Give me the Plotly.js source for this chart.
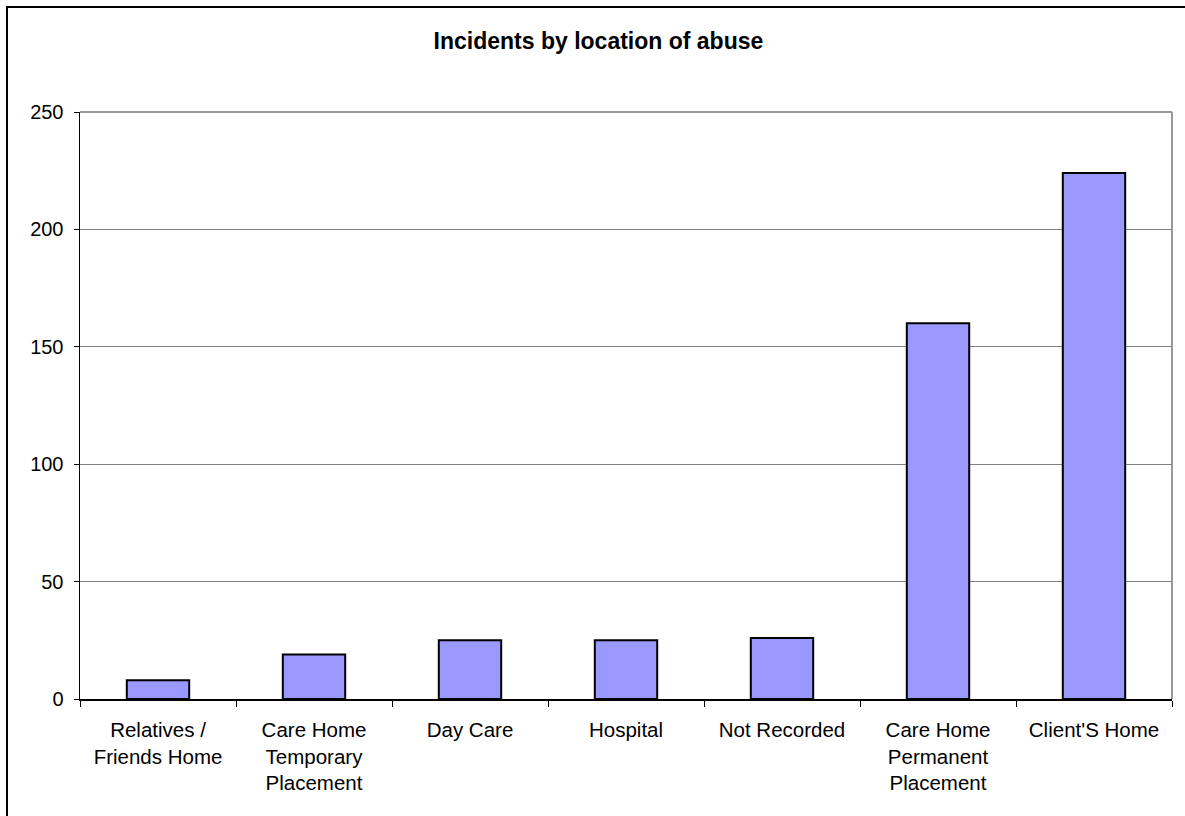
<!DOCTYPE html>
<html>
<head>
<meta charset="utf-8">
<script src="https://cdn.plot.ly/plotly-3.0.1.min.js"></script>
<style>
  html, body { margin: 0; padding: 0; background: #fff; }
  #wrap { position: relative; width: 1185px; height: 816px; overflow: hidden; }
  #chart { width: 1185px; height: 816px; }
  #frame { position: absolute; left: 6px; top: 6px; width: 1300px; height: 900px;
           border-left: 2px solid #000; border-top: 2px solid #000; pointer-events: none; }
</style>
</head>
<body>
<div id="wrap">
  <div id="chart"></div>
  <div id="frame"></div>
</div>
<script>
const categories = [
  "Relatives /<br>Friends Home",
  "Care Home<br>Temporary<br>Placement",
  "Day Care",
  "Hospital",
  "Not Recorded",
  "Care Home<br>Permanent<br>Placement",
  "Client'S Home"
];
const incidents = [8, 19, 25, 25, 26, 160, 224];
const yTicks = [0, 50, 100, 150, 200, 250];

const fontFam = '"Liberation Sans", Arial, sans-serif';

const trace = {
  type: 'bar',
  x: categories,
  y: incidents,
  marker: { color: '#9999FF', line: { color: '#000000', width: 2 } },
  hoverinfo: 'x+y'
};

const layout = {
  width: 1185,
  height: 816,
  paper_bgcolor: '#ffffff',
  plot_bgcolor: '#ffffff',
  margin: { l: 80, r: 13, t: 112, b: 117 },
  bargap: 0.6,
  showlegend: false,
  font: { family: fontFam, size: 20, color: '#000' },
  title: {
    text: '<b>Incidents by location of abuse</b>',
    font: { family: fontFam, size: 23, color: '#000' },
    x: 0.505, xanchor: 'center',
    y: 1 - 41 / 816, yanchor: 'middle'
  },
  xaxis: {
    type: 'category',
    showline: true, linecolor: '#000', linewidth: 1.5,
    ticks: 'outside', ticklen: 6, tickcolor: '#000', tickwidth: 1,
    tickson: 'boundaries',
    showgrid: false,
    tickfont: { family: fontFam, size: 20.5, color: '#000' },
    ticklabelstandoff: 12,
    automargin: false
  },
  yaxis: {
    range: [0, 250],
    tickvals: yTicks,
    ticktext: yTicks.map(String),
    showline: true, linecolor: '#000', linewidth: 1.5,
    ticks: 'outside', ticklen: 5, tickcolor: '#000', tickwidth: 1,
    showgrid: true, gridcolor: '#808080', gridwidth: 1,
    zeroline: false,
    tickfont: { family: fontFam, size: 20, color: '#000' },
    ticklabelstandoff: 6,
    automargin: false
  },
  shapes: [
    { type: 'line', xref: 'paper', yref: 'paper', x0: 0, x1: 1, y0: 1, y1: 1,
      line: { color: '#999999', width: 2 }, layer: 'below' },
    { type: 'line', xref: 'paper', yref: 'paper', x0: 1, x1: 1, y0: 0, y1: 1,
      line: { color: '#999999', width: 2 }, layer: 'below' }
  ]
};

Plotly.newPlot('chart', [trace], layout, { displayModeBar: false, staticPlot: true });
</script>
</body>
</html>
